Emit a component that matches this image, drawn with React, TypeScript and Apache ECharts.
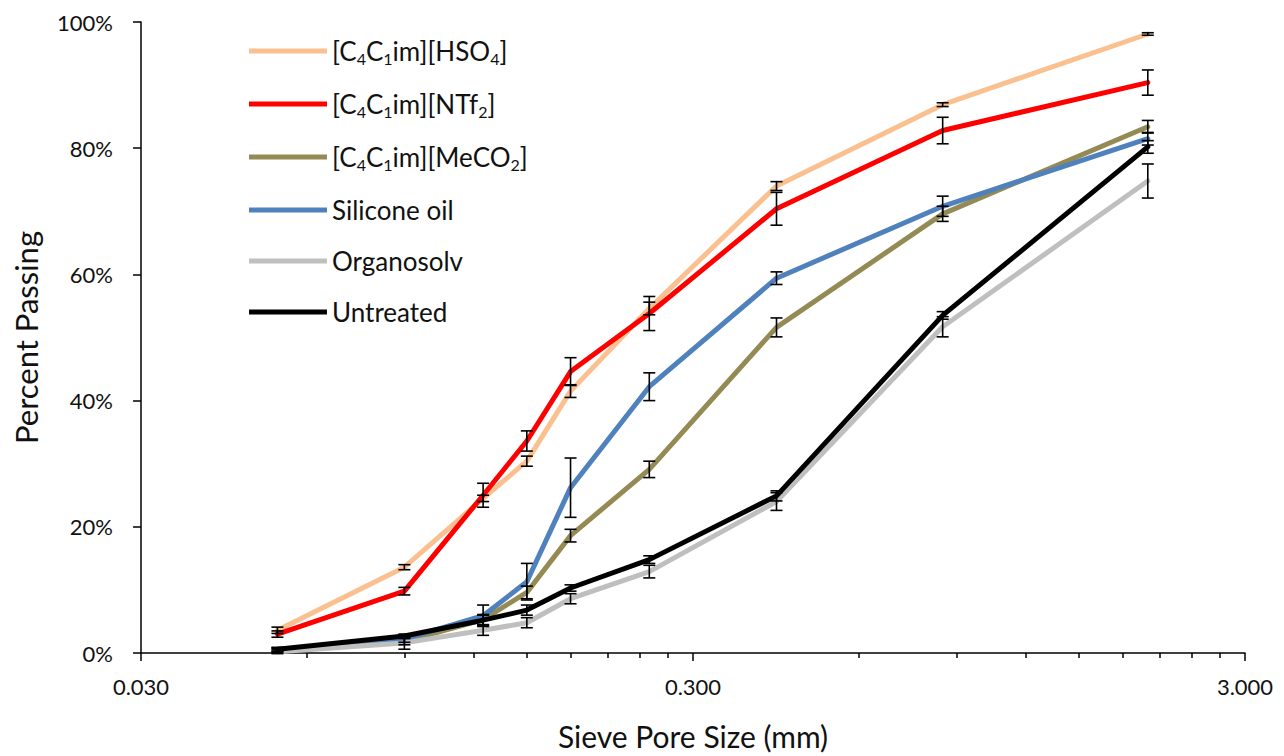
import React, { useEffect, useRef } from "react";
import * as echarts from "echarts";

const sizes = [0.053, 0.09, 0.125, 0.15, 0.18, 0.25, 0.425, 0.85, 2.0];

const seriesNames = [
  "[C4C1im][HSO4]",
  "[C4C1im][NTf2]",
  "[C4C1im][MeCO2]",
  "Silicone oil",
  "Organosolv",
  "Untreated",
];
const seriesColors = ["#FAC090", "#FF0000", "#948A54", "#4F81BD", "#BFBFBF", "#000000"];

const hso4 = [3.6, 13.6, 24.5, 30.4, 41.5, 54.6, 74.0, 86.9, 98.1];
const ntf2 = [3.0, 9.8, 25.0, 33.6, 44.6, 53.8, 70.4, 82.8, 90.4];
const meco2 = [0.4, 1.8, 5.3, 9.6, 18.6, 29.1, 51.6, 69.6, 83.4];
const silicone = [0.5, 2.2, 5.9, 11.3, 26.2, 42.2, 59.4, 70.8, 81.5];
const organosolv = [0.2, 1.6, 3.6, 4.8, 8.6, 12.9, 24.0, 51.7, 74.8];
const untreated = [0.6, 2.7, 5.2, 6.8, 10.3, 14.8, 24.9, 53.5, 80.2];

const errHso4 = [0.5, 0.4, 0.5, 0.8, 1.0, 1.0, 0.7, 0.3, 0.2];
const errNtf2 = [0.5, 0.6, 1.9, 1.6, 2.2, 2.7, 2.6, 2.1, 2.0];
const errMeco2 = [0.3, 0.5, 0.8, 1.0, 1.0, 1.3, 1.5, 1.2, 1.0];
const errSilicone = [0.3, 0.5, 1.7, 2.9, 4.7, 2.2, 1.0, 1.6, 1.0];
const errOrganosolv = [0.3, 1.0, 0.8, 0.8, 0.8, 1.0, 1.4, 1.6, 2.7];
const errUntreated = [0.3, 0.3, 0.8, 0.8, 0.5, 0.6, 0.8, 0.6, 1.0];

const xMajorTicks = [0.03, 0.3, 3];
const xMinorTicks = [
  0.06, 0.09, 0.12, 0.15, 0.18, 0.21, 0.24, 0.27,
  0.6, 0.9, 1.2, 1.5, 1.8, 2.1, 2.4, 2.7,
];
const yTicks = [0, 20, 40, 60, 80, 100];

const legendRich: Record<string, string> = {
  "[C4C1im][HSO4]": "{a|[C}{s|4}{a|C}{s|1}{a|im][HSO}{s|4}{a|]}",
  "[C4C1im][NTf2]": "{a|[C}{s|4}{a|C}{s|1}{a|im][NTf}{s|2}{a|]}",
  "[C4C1im][MeCO2]": "{a|[C}{s|4}{a|C}{s|1}{a|im][MeCO}{s|2}{a|]}",
};

const FONT = "Lato, 'Noto Sans', sans-serif";

export default function App() {
  const ref = useRef<HTMLDivElement>(null);

  useEffect(() => {
    if (!ref.current) return;
    const chart = echarts.init(ref.current, undefined, { renderer: "svg" });
    const values = [hso4, ntf2, meco2, silicone, organosolv, untreated];
    const errs = [errHso4, errNtf2, errMeco2, errSilicone, errOrganosolv, errUntreated];
    const lx = (v: number) => Math.log10(v);
    const xMin = lx(xMajorTicks[0]);
    const xMax = lx(xMajorTicks[xMajorTicks.length - 1]);

    const lineSeries = seriesNames.map((name, i) => ({
      name,
      type: "line",
      xAxisIndex: 0,
      yAxisIndex: 0,
      data: sizes.map((s, j) => [lx(s), values[i][j]]),
      symbol: "none",
      lineStyle: { width: 5, color: seriesColors[i], cap: "round", join: "round" },
      itemStyle: { color: seriesColors[i] },
      z: 2 + i,
    }));

    const errData: number[][] = [];
    values.forEach((vals, i) => {
      sizes.forEach((s, j) => {
        errData.push([lx(s), vals[j] - errs[i][j], vals[j] + errs[i][j]]);
      });
    });

    const errSeries = {
      type: "custom",
      name: "errors",
      xAxisIndex: 0,
      yAxisIndex: 0,
      data: errData,
      encode: { x: 0, y: [1, 2] },
      z: 20,
      silent: true,
      renderItem: (params: any, api: any) => {
        const x = api.value(0);
        const lo = api.coord([x, api.value(1)]);
        const hi = api.coord([x, api.value(2)]);
        const hw = 6;
        const st = { stroke: "#000", lineWidth: 1.6 };
        return {
          type: "group",
          children: [
            { type: "line", shape: { x1: lo[0], y1: lo[1], x2: hi[0], y2: hi[1] }, style: st },
            { type: "line", shape: { x1: lo[0] - hw, y1: lo[1], x2: lo[0] + hw, y2: lo[1] }, style: st },
            { type: "line", shape: { x1: hi[0] - hw, y1: hi[1], x2: hi[0] + hw, y2: hi[1] }, style: st },
          ],
        };
      },
    };

    chart.setOption({
      animation: false,
      backgroundColor: "#ffffff",
      grid: { left: 141, right: 39, top: 22, bottom: 100, containLabel: false },
      legend: {
        data: seriesNames,
        orient: "vertical",
        left: 249,
        top: 38,
        padding: 0,
        itemWidth: 78,
        itemHeight: 5,
        itemGap: 25,
        icon: "rect",
        selectedMode: false,
        formatter: (name: string) => legendRich[name] || `{a|${name}}`,
        textStyle: {
          fontFamily: FONT,
          fontSize: 26,
          color: "#111",
          rich: {
            a: { fontFamily: FONT, fontSize: 26, lineHeight: 30, color: "#111" },
            s: { fontFamily: FONT, fontSize: 16, lineHeight: 16, verticalAlign: "bottom", color: "#111" },
          },
        },
      },
      xAxis: [
        {
          type: "value",
          min: xMin,
          max: xMax,
          position: "bottom",
          name: "Sieve Pore Size (mm)",
          nameLocation: "middle",
          nameGap: 68,
          nameTextStyle: { fontFamily: FONT, fontSize: 30, color: "#111", verticalAlign: "top" },
          axisLine: { show: true, onZero: false, lineStyle: { color: "#000", width: 1.5 } },
          axisTick: {
            show: true,
            length: 8,
            lineStyle: { color: "#000", width: 1.5 },
            customValues: xMajorTicks.map(lx),
          },
          axisLabel: {
            show: true,
            margin: 22,
            fontFamily: FONT,
            fontSize: 22,
            color: "#111",
            customValues: xMajorTicks.map(lx),
            formatter: (v: number) => Math.pow(10, v).toFixed(3),
          },
          splitLine: { show: false },
        },
        {
          type: "value",
          min: xMin,
          max: xMax,
          position: "bottom",
          axisLine: { show: false, onZero: false },
          axisTick: {
            show: true,
            length: 5,
            lineStyle: { color: "#000", width: 1.5 },
            customValues: xMinorTicks.map(lx),
          },
          axisLabel: { show: false },
          splitLine: { show: false },
        },
      ],
      yAxis: {
        type: "value",
        min: 0,
        max: 100,
        interval: 20,
        name: "Percent Passing",
        nameLocation: "middle",
        nameGap: 100,
        nameTextStyle: { fontFamily: FONT, fontSize: 31, color: "#111" },
        axisLine: { show: true, onZero: false, lineStyle: { color: "#000", width: 1.5 } },
        axisTick: { show: true, length: 8, lineStyle: { color: "#000", width: 1.5 }, customValues: yTicks },
        axisLabel: {
          margin: 28,
          fontFamily: FONT,
          fontSize: 22,
          color: "#111",
          customValues: yTicks,
          formatter: (v: number) => `${v}%`,
        },
        splitLine: { show: false },
      },
      series: [...lineSeries, errSeries],
    });

    return () => chart.dispose();
  }, []);

  return (
    <div
      ref={ref}
      style={{ position: "fixed", left: 0, top: 0, width: 1284, height: 756, background: "#fff" }}
    />
  );
}
